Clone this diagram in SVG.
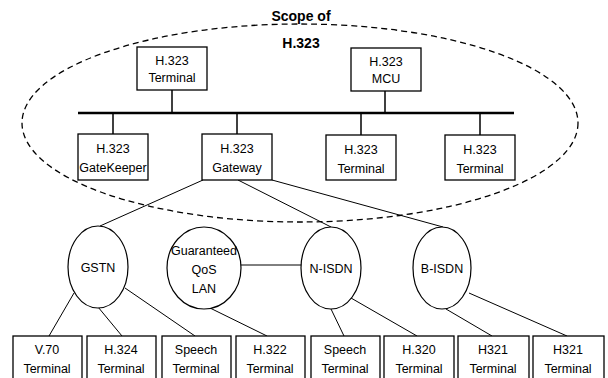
<svg xmlns="http://www.w3.org/2000/svg" width="608" height="378" viewBox="0 0 608 378">
<style>
.box{fill:#fff;stroke:#000;stroke-width:1.3}
.net{fill:#fff;stroke:#000;stroke-width:1.2}
.t{font-family:"Liberation Sans",Arial,sans-serif;font-size:12.5px;text-anchor:middle;fill:#000}
.title{font-family:"Liberation Sans",Arial,sans-serif;font-size:14px;font-weight:bold;text-anchor:middle;fill:#000}
.stub{stroke:#000;stroke-width:1.5;fill:none}
.ln{stroke:#000;stroke-width:1;fill:none}
</style>
<rect width="608" height="378" fill="#fff"/>
<ellipse id="scope" cx="300" cy="123" rx="278" ry="99" fill="none" stroke="#000" stroke-width="1.3" stroke-dasharray="6,4"/>
<text class="title" x="301" y="21">Scope of</text>
<text class="title" x="301" y="48">H.323</text>
<g id="connectors">
<line class="stub" x1="78" y1="113" x2="514" y2="113" style="stroke-width:2.5"/>
<line class="stub" x1="172" y1="90" x2="172" y2="113"/>
<line class="stub" x1="385" y1="91" x2="385" y2="113"/>
<line class="stub" x1="113" y1="113" x2="113" y2="134"/>
<line class="stub" x1="237" y1="113" x2="237" y2="134"/>
<line class="stub" x1="361" y1="113" x2="361" y2="135"/>
<line class="stub" x1="480" y1="113" x2="480" y2="135"/>
<line class="ln" x1="203" y1="180" x2="100" y2="226"/>
<line class="ln" x1="238" y1="180" x2="331" y2="227"/>
<line class="ln" x1="272" y1="180" x2="443" y2="227"/>
<line class="ln" x1="241" y1="265" x2="302" y2="265"/>
<line class="ln" x1="74" y1="293" x2="49" y2="336"/>
<line class="ln" x1="98" y1="307" x2="122" y2="336"/>
<line class="ln" x1="125" y1="288" x2="195" y2="336"/>
<line class="ln" x1="210" y1="308" x2="267" y2="336"/>
<line class="ln" x1="331" y1="309" x2="344" y2="336"/>
<line class="ln" x1="351" y1="298" x2="417" y2="336"/>
<line class="ln" x1="446" y1="309" x2="492" y2="336"/>
<line class="ln" x1="469" y1="293" x2="567" y2="336"/>
</g>
<g id="terminal-top"><rect class="box" x="137" y="47" width="70" height="43"/><text class="t" x="172" y="65">H.323</text><text class="t" x="172" y="82">Terminal</text></g>
<g id="mcu"><rect class="box" x="351" y="48" width="70" height="43"/><text class="t" x="386" y="66">H.323</text><text class="t" x="386" y="83">MCU</text></g>
<g id="gatekeeper"><rect class="box" x="78" y="134" width="70" height="46"/><text class="t" x="113" y="153">H.323</text><text class="t" x="113" y="172">GateKeeper</text></g>
<g id="gateway"><rect class="box" x="202" y="134" width="70" height="46"/><text class="t" x="237" y="153">H.323</text><text class="t" x="237" y="172">Gateway</text></g>
<g id="terminal-3"><rect class="box" x="326" y="135" width="70" height="45"/><text class="t" x="361" y="154">H.323</text><text class="t" x="361" y="173">Terminal</text></g>
<g id="terminal-4"><rect class="box" x="445" y="135" width="70" height="45"/><text class="t" x="480" y="154">H.323</text><text class="t" x="480" y="173">Terminal</text></g>
<g id="gstn"><ellipse class="net" cx="98" cy="267" rx="30" ry="41"/><text class="t" x="98" y="272">GSTN</text></g>
<g id="lan"><ellipse class="net" cx="204" cy="268" rx="37" ry="41"/><text class="t" x="204" y="255">Guaranteed</text><text class="t" x="204" y="274">QoS</text><text class="t" x="204" y="293">LAN</text></g>
<g id="n-isdn"><ellipse class="net" cx="331" cy="268" rx="30" ry="41"/><text class="t" x="331" y="273">N-ISDN</text></g>
<g id="b-isdn"><ellipse class="net" cx="442" cy="268" rx="29" ry="41"/><text class="t" x="442" y="273">B-ISDN</text></g>
<g id="v70"><rect class="box" x="13" y="336" width="69" height="50"/><text class="t" x="47" y="354">V.70</text><text class="t" x="47" y="373">Terminal</text></g>
<g id="h324"><rect class="box" x="87" y="336" width="69" height="50"/><text class="t" x="121" y="354">H.324</text><text class="t" x="121" y="373">Terminal</text></g>
<g id="speech-1"><rect class="box" x="162" y="336" width="69" height="50"/><text class="t" x="196" y="354">Speech</text><text class="t" x="196" y="373">Terminal</text></g>
<g id="h322"><rect class="box" x="236" y="336" width="69" height="50"/><text class="t" x="270" y="354">H.322</text><text class="t" x="270" y="373">Terminal</text></g>
<g id="speech-2"><rect class="box" x="311" y="336" width="69" height="50"/><text class="t" x="345" y="354">Speech</text><text class="t" x="345" y="373">Terminal</text></g>
<g id="h320"><rect class="box" x="384" y="336" width="70" height="50"/><text class="t" x="419" y="354">H.320</text><text class="t" x="419" y="373">Terminal</text></g>
<g id="h321-1"><rect class="box" x="458" y="336" width="71" height="50"/><text class="t" x="493" y="354">H321</text><text class="t" x="493" y="373">Terminal</text></g>
<g id="h321-2"><rect class="box" x="533" y="336" width="71" height="50"/><text class="t" x="568" y="354">H321</text><text class="t" x="568" y="373">Terminal</text></g>
</svg>
